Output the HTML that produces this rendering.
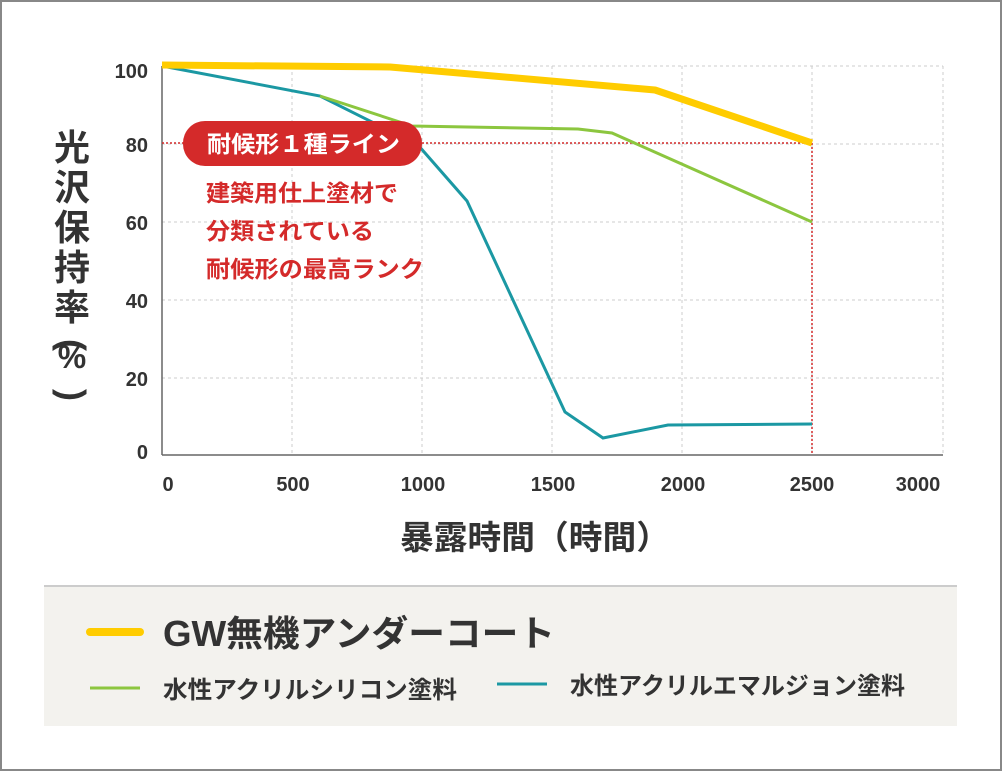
<!DOCTYPE html>
<html><head><meta charset="utf-8"><style>
body{margin:0;background:#fff;}
svg text{font-family:"Liberation Sans","Noto Sans CJK JP",sans-serif;}
</style></head><body>
<svg width="1002" height="771" viewBox="0 0 1002 771" xmlns="http://www.w3.org/2000/svg">
<rect x="1" y="1" width="1000" height="769" fill="#fff" stroke="#888" stroke-width="2"/>
<g stroke="#ccc" stroke-width="1" stroke-dasharray="3,3">
<line x1="162" y1="66" x2="943" y2="66"/><line x1="162" y1="144" x2="943" y2="144"/>
<line x1="162" y1="222" x2="943" y2="222"/><line x1="162" y1="300" x2="943" y2="300"/>
<line x1="162" y1="378" x2="943" y2="378"/>
<line x1="292" y1="66" x2="292" y2="455"/><line x1="422" y1="66" x2="422" y2="455"/>
<line x1="552" y1="66" x2="552" y2="455"/><line x1="682" y1="66" x2="682" y2="455"/>
<line x1="812" y1="66" x2="812" y2="455"/><line x1="943" y1="66" x2="943" y2="455"/>
</g>
<line x1="162" y1="66" x2="162" y2="455" stroke="#666" stroke-width="1.5"/>
<line x1="162" y1="455" x2="943" y2="455" stroke="#666" stroke-width="1.5"/>
<g fill="#333" font-size="20" text-anchor="end" font-weight="bold">
<text x="148" y="78">100</text><text x="148" y="152">80</text><text x="148" y="230">60</text>
<text x="148" y="308">40</text><text x="148" y="386">20</text><text x="148" y="459">0</text>
</g>
<g fill="#333" font-size="20" text-anchor="middle" font-weight="bold">
<text x="168" y="491">0</text><text x="293" y="491">500</text><text x="423" y="491">1000</text>
<text x="553" y="491">1500</text><text x="683" y="491">2000</text><text x="812" y="491">2500</text><text x="918" y="491">3000</text>
</g>
<g fill="#333" font-size="36" font-weight="bold" text-anchor="middle">
<text x="72" y="160">光</text><text x="72" y="200">沢</text><text x="72" y="240">保</text>
<text x="72" y="280">持</text><text x="72" y="320">率</text>
<text x="72" y="345" transform="rotate(90 72 345)" dy="12">(</text>
<text x="72" y="368" font-size="32">%</text>
<text x="72" y="395" transform="rotate(90 72 395)" dy="12">)</text>
</g>
<text x="400" y="549" font-size="33" font-weight="bold" fill="#333" textLength="270" lengthAdjust="spacingAndGlyphs">暴露時間（時間）</text>
<line x1="162" y1="143" x2="812" y2="143" stroke="#d42a2a" stroke-width="1.5" stroke-dasharray="2,2"/>
<line x1="812" y1="143" x2="812" y2="455" stroke="#d42a2a" stroke-width="1.5" stroke-dasharray="2,2"/>
<polyline points="162,66 320,96 418,145 467,201 565,412 603,438 668,425 812,424" fill="none" stroke="#1b98a3" stroke-width="3"/>
<polyline points="320,96 412,126 578,129 612,133 812,222" fill="none" stroke="#8cc63f" stroke-width="3"/>
<polyline points="162,65 390,67 655,90 812,143" fill="none" stroke="#ffcc00" stroke-width="7" stroke-linejoin="round"/>
<rect x="183" y="121" width="239" height="45" rx="22" fill="#d42a2a"/>
<text x="207" y="152" fill="#fff" font-size="23" font-weight="bold" textLength="193" lengthAdjust="spacingAndGlyphs">耐候形１種ライン</text>
<g fill="#d42a2a" font-size="23" font-weight="bold">
<text x="206" y="201" textLength="192" lengthAdjust="spacingAndGlyphs">建築用仕上塗材で</text>
<text x="206" y="239" textLength="168" lengthAdjust="spacingAndGlyphs">分類されている</text>
<text x="206" y="277" textLength="218" lengthAdjust="spacingAndGlyphs">耐候形の最高ランク</text>
</g>
<rect x="44" y="585" width="913" height="141" fill="#f3f2ee"/>
<line x1="44" y1="586" x2="957" y2="586" stroke="#ccc" stroke-width="2"/>
<line x1="90" y1="632" x2="140" y2="632" stroke="#ffcc00" stroke-width="8" stroke-linecap="round"/>
<text x="163" y="646" font-size="36" font-weight="bold" fill="#333" textLength="392" lengthAdjust="spacingAndGlyphs">GW無機アンダーコート</text>
<line x1="90" y1="688" x2="140" y2="688" stroke="#8cc63f" stroke-width="3"/>
<text x="163" y="698" font-size="24" font-weight="bold" fill="#333" textLength="294" lengthAdjust="spacingAndGlyphs">水性アクリルシリコン塗料</text>
<line x1="497" y1="684" x2="547" y2="684" stroke="#1b98a3" stroke-width="3"/>
<text x="570" y="694" font-size="24" font-weight="bold" fill="#333" textLength="335" lengthAdjust="spacingAndGlyphs">水性アクリルエマルジョン塗料</text>
</svg>
</body></html>
